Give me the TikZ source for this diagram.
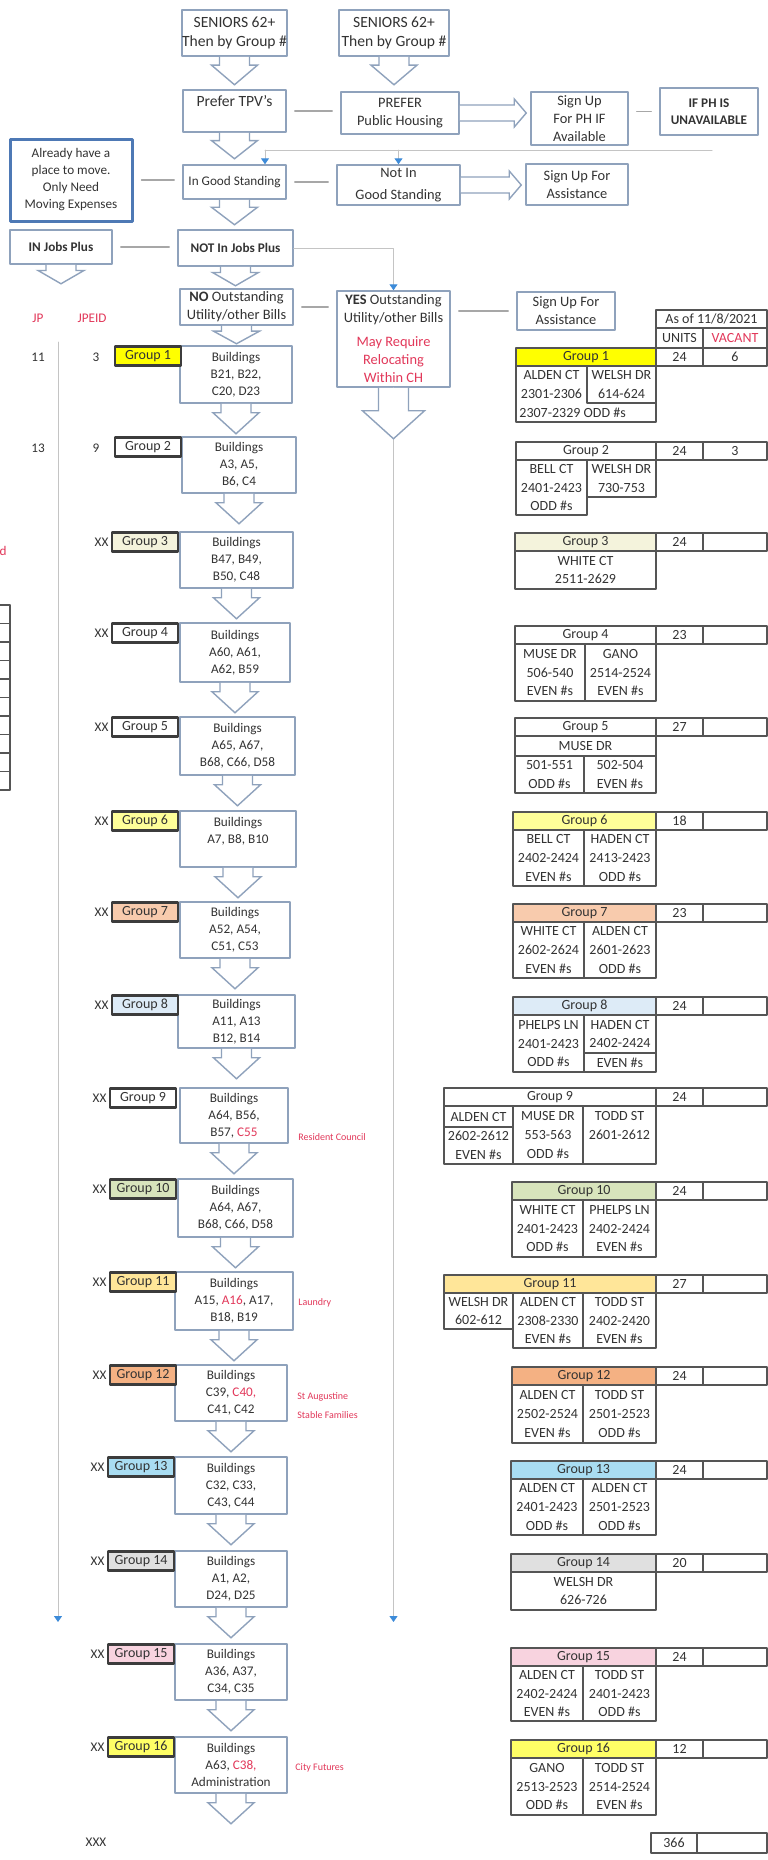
\documentclass[tikz,border=0pt]{standalone}
\usepackage{fontspec}
\setmainfont{Carlito}
\usepackage{xcolor}
\usepackage{tikz}
\usetikzlibrary{arrows.meta,positioning}
\definecolor{rlInk}{HTML}{333333}
\definecolor{rlLine}{HTML}{8FA2BC}
\definecolor{rlBlue}{HTML}{4E79B5}
\definecolor{rlDark}{HTML}{3C3C3C}
\definecolor{rlGrid}{HTML}{555555}
\definecolor{rlFaint}{HTML}{C4C4C4}
\definecolor{rlTip}{HTML}{3D8BD9}
\definecolor{rlRed}{HTML}{E2385A}
\definecolor{rlGa}{HTML}{FFFF00}
\definecolor{rlGc}{HTML}{F4F3DC}
\definecolor{rlGf}{HTML}{FFFF99}
\definecolor{rlGg}{HTML}{F8CBAD}
\definecolor{rlGh}{HTML}{DDEBF7}
\definecolor{rlGj}{HTML}{D8E4BC}
\definecolor{rlGk}{HTML}{FFE699}
\definecolor{rlGl}{HTML}{F4B183}
\definecolor{rlGm}{HTML}{A9DDF2}
\definecolor{rlGn}{HTML}{E0E0E0}
\definecolor{rlGo}{HTML}{F8D3DF}
\definecolor{rlGp}{HTML}{FFFF66}
\newcommand{\rlflow}{\fontsize{6.6}{8.5}\selectfont}
\newcommand{\rlflowbig}{\fontsize{7.2}{9}\selectfont}
\newcommand{\rlflowtop}{\fontsize{7.8}{9.6}\selectfont}
\newcommand{\rlcell}{\fontsize{7}{9.4}\selectfont}
\newcommand{\rlnote}{\fontsize{5}{6}\selectfont}
% hollow block arrow pointing down out of a box
\newcommand{\blockbelow}[2][30]{%
  \draw[rl block] ([xshift=7.5pt]#2.south) -- ++(0,{0.3*#1}) -- ++(8,0)
    -- ++(-23,{0.7*#1}) -- ++(-23,{-0.7*#1}) -- ++(8,0) -- ++(0,{-0.3*#1});}
% hollow block arrow pointing right, between two boxes
\newcommand{\blockright}[2]{%
  \coordinate (brTip) at (#1.east -| #2.west);
  \draw[rl block] ([yshift=4pt]#1.east) -- ([xshift=-8pt,yshift=4pt]brTip)
    -- ([xshift=-8pt,yshift=7pt]brTip) -- ([xshift=-2pt]brTip)
    -- ([xshift=-8pt,yshift=-7pt]brTip) -- ([xshift=-8pt,yshift=-4pt]brTip)
    -- ([yshift=-4pt]#1.east);}
\tikzset{
  rl diagram/.style={font=\rlflow, text=rlInk, x=0.5pt, y=-0.5pt,
    line cap=round, line join=round},
  rl span/.style n args={4}{minimum width={(#3-#1)*0.5pt},
    minimum height={(#4-#2)*0.5pt}, at={({(#1+#3)/2},{(#2+#4)/2})}},
  rl box/.style={draw=rlLine, fill=white, line width=0.75pt,
    inner sep=0pt, align=center},
  rl key box/.style={rl box, draw=rlBlue, line width=1.5pt},
  rl group/.style={draw=rlDark, line width=1.2pt, inner sep=0pt,
    minimum width=33pt, minimum height=9.5pt, anchor=north east,
    font=\fontsize{7}{8}\selectfont},
  rl cell/.style={draw=rlGrid, line width=0.6pt, inner sep=0pt,
    align=center, font=\rlcell},
  rl celltext/.style={inner sep=0pt, align=center, font=\rlcell},
  rl block/.style={draw=rlLine, fill=white, line width=0.7pt, line join=miter},
  rl link/.style={draw=rlFaint!85!black, line width=0.6pt,
    shorten <=4pt, shorten >=4pt},
  rl faint/.style={draw=rlFaint, line width=0.5pt},
  rl tip/.style={-{Triangle[length=3pt,width=4pt,color=rlTip]}},
  rl note/.style={font=\rlnote, text=rlRed, anchor=west, inner sep=0pt},
  rl red/.style={text=rlRed, inner sep=0pt},
  rl small/.style={inner sep=0pt}
}
\begin{document}
\begin{tikzpicture}[rl diagram]
\path[use as bounding box, fill=white] (0,0) rectangle (767,1860);

% faint guide lines
\coordinate (railL) at (265,150);
\coordinate (railR) at (712,150);
\coordinate (leftTop) at (58,342);
\coordinate (leftEnd) at (58,1622);
\draw[rl faint] (railL) -- (railR);
\draw[rl faint, rl tip] (leftTop) -- (leftEnd);

% flow boxes
\node[rl box, rl span={183}{10}{286}{56}, font=\rlflowtop] (seniorsA) {SENIORS 62+\\Then by Group \#};
\node[rl box, rl span={339}{10}{449}{56}, font=\rlflowtop] (seniorsB) {SENIORS 62+\\Then by Group \#};
\node[rl box, rl span={183}{90}{286}{132}, font=\rlflowtop] (tpv) {Prefer TPV's\\\mbox{}};
\node[rl box, rl span={341}{92}{459}{134}, font=\rlflowbig] (pph) {PREFER\\Public Housing};
\node[rl box, rl span={531}{92}{628}{145}, font=\rlflowbig] (suph) {Sign Up\\For PH IF\\Available};
\node[rl box, rl span={660}{88}{758}{135}, font=\rlflow\bfseries] (unav) {IF PH IS\\UNAVAILABLE};
\node[rl key box, rl span={10}{139}{132}{221}] (already) {Already have a\\place to move.\\Only Need\\Moving Expenses};
\node[rl box, rl span={183}{165}{286}{199}] (goodst) {In Good Standing};
\node[rl box, rl span={337}{165}{460}{205}, font=\rlflowbig] (notgood) {Not In\\[2pt]Good Standing};
\node[rl box, rl span={526}{164}{628}{205}, font=\rlflowbig] (assistA) {Sign Up For\\Assistance};
\node[rl box, rl span={10}{230}{112}{264}, font=\rlflow\bfseries] (injobs) {IN Jobs Plus};
\node[rl box, rl span={178}{230}{293}{266}, font=\rlflow\bfseries] (notjobs) {NOT In Jobs Plus};
\node[rl box, rl span={180}{289}{293}{325}, font=\rlflowbig] (nobills) {\textbf{NO} Outstanding\\Utility/other Bills};
\node[rl box, rl span={337}{291}{450}{387}, font=\rlflowbig] (yesbills) {\textbf{YES} Outstanding\\Utility/other Bills\\[3pt]\textcolor{rlRed}{May Require}\\\textcolor{rlRed}{Relocating}\\\textcolor{rlRed}{Within CH}};
\node[rl box, rl span={517}{292}{615}{330}, font=\rlflowbig] (assistB) {Sign Up For\\Assistance};

\draw[rl faint, rl tip] (railL) -- (railL |- goodst.north);
\draw[rl faint, rl tip] (notgood.north |- railL) -- (notgood.north);
\draw[rl faint, rl tip] (notjobs.east) -| (yesbills.north);
\coordinate (rightEnd) at (yesbills.south |- leftEnd);
\draw[rl faint, rl tip] (yesbills.south) -- (rightEnd);

\draw[rl link] (tpv.east) -- (tpv.east -| pph.west);
\draw[rl link] (unav.west -| suph.east) -- (unav.west);
\draw[rl link] (already.east) -- (already.east -| goodst.west);
\draw[rl link] (goodst.east) -- (goodst.east -| notgood.west);
\draw[rl link] (injobs.east) -- (injobs.east -| notjobs.west);
\draw[rl link] (nobills.east) -- (nobills.east -| yesbills.west);
\draw[rl link] (yesbills.east |- assistB.west) -- (assistB.west);

% building boxes
\node[rl box, rl span={180}{346}{292}{403}] (b1) {Buildings\\B21, B22,\\C20, D23};
\node[rl box, rl span={182}{437}{296}{493}] (b2) {Buildings\\A3, A5,\\B6, C4};
\node[rl box, rl span={180}{532}{293}{588}] (b3) {Buildings\\B47, B49,\\B50, C48};
\node[rl box, rl span={180}{623}{290}{682}] (b4) {Buildings\\A60, A61,\\A62, B59};
\node[rl box, rl span={180}{717}{295}{775}] (b5) {Buildings\\A65, A67,\\B68, C66, D58};
\node[rl box, rl span={180}{811}{296}{867}] (b6) {Buildings\\A7, B8, B10\\\mbox{}};
\node[rl box, rl span={180}{902}{290}{958}] (b7) {Buildings\\A52, A54,\\C51, C53};
\node[rl box, rl span={178}{995}{295}{1048}] (b8) {Buildings\\A11, A13\\B12, B14};
\node[rl box, rl span={180}{1088}{288}{1143}] (b9) {Buildings\\A64, B56,\\B57, \textcolor{rlRed}{C55}};
\node[rl box, rl span={178}{1179}{293}{1237}] (b10) {Buildings\\A64, A67,\\B68, C66, D58};
\node[rl box, rl span={175}{1272}{293}{1330}] (b11) {Buildings\\A15, \textcolor{rlRed}{A16}, A17,\\B18, B19};
\node[rl box, rl span={175}{1365}{287}{1421}] (b12) {Buildings\\C39, \textcolor{rlRed}{C40,}\\C41, C42};
\node[rl box, rl span={175}{1457}{287}{1514}] (b13) {Buildings\\C32, C33,\\C43, C44};
\node[rl box, rl span={175}{1551}{287}{1607}] (b14) {Buildings\\A1, A2,\\D24, D25};
\node[rl box, rl span={175}{1644}{287}{1700}] (b15) {Buildings\\A36, A37,\\C34, C35};
\node[rl box, rl span={175}{1737}{287}{1793}] (b16) {Buildings\\A63, \textcolor{rlRed}{C38,}\\Administration};

% block arrows
\blockbelow[28]{seniorsA}
\blockbelow[28]{seniorsB}
\blockbelow[26]{tpv}
\blockbelow[25]{goodst}
\blockbelow[19]{injobs}
\blockbelow[19]{notjobs}
\blockbelow[18]{nobills}
\foreach \k in {1,...,16} {\blockbelow{b\k}}
\draw[rl block] ([xshift=7.5pt]yesbills.south) -- ++(0,23) -- ++(16,0)
  -- ++(-31,28) -- ++(-31,-28) -- ++(16,0) -- ++(0,-23);
\blockright{pph}{suph}
\blockright{notgood}{assistA}

% group tags
\node[rl group, fill=rlGa] (grp1) at ([xshift=1.5pt]b1.north west) {Group 1};
\node[rl group, fill=white] (grp2) at ([xshift=0.5pt]b2.north west) {Group 2};
\node[rl group, fill=rlGc] (grp3) at (b3.north west) {Group 3};
\node[rl group, fill=white] (grp4) at (b4.north west) {Group 4};
\node[rl group, fill=white] (grp5) at (b5.north west) {Group 5};
\node[rl group, fill=rlGf] (grp6) at (b6.north west) {Group 6};
\node[rl group, fill=rlGg] (grp7) at (b7.north west) {Group 7};
\node[rl group, fill=rlGh] (grp8) at ([xshift=1pt]b8.north west) {Group 8};
\node[rl group, fill=white] (grp9) at ([xshift=-1pt]b9.north west) {Group 9};
\node[rl group, fill=rlGj] (grp10) at (b10.north west) {Group 10};
\node[rl group, fill=rlGk] (grp11) at ([xshift=1.5pt]b11.north west) {Group 11};
\node[rl group, fill=rlGl] (grp12) at ([xshift=1.5pt]b12.north west) {Group 12};
\node[rl group, fill=rlGm] (grp13) at ([xshift=0.5pt]b13.north west) {Group 13};
\node[rl group, fill=rlGn] (grp14) at ([xshift=0.5pt]b14.north west) {Group 14};
\node[rl group, fill=rlGo] (grp15) at ([xshift=0.5pt]b15.north west) {Group 15};
\node[rl group, fill=rlGp] (grp16) at ([xshift=0.5pt]b16.north west) {Group 16};
\foreach \k in {3,...,16} {\node[rl small, left=1pt of grp\k] (xx\k) {XX};}

% left columns
\node[rl red] (jpHead) at (38,318) {JP};
\node[rl red] (jpeidHead) at (92,318) {JPEID};
\node[rl small] (jpA) at (38,357) {11};
\node[rl small] (jpeidA) at (96,357) {3};
\node[rl small] (jpB) at (38,448) {13};
\node[rl small] (jpeidB) at (96,448) {9};
\node[rl red, anchor=east] (cutNote) at (7,551) {d};
\foreach \r in {0,...,10} {\draw[draw=rlGrid, line width=0.6pt] (0,{605+18.5*\r}) -- (10,{605+18.5*\r});}
\draw[draw=rlGrid, line width=0.6pt] (10,605) -- (10,790);
\node[rl small] (tail) at (96,1842) {XXX};

% notes
\node[rl note] (noteCouncil) at (298,1137) {Resident Council};
\node[rl note] (noteLaundry) at (298,1303) {Laundry};
\node[rl note] (noteAugustine) at (297,1397) {St Augustine};
\node[rl note] (noteStable) at (297,1415) {Stable Families};
\node[rl note] (noteFutures) at (295,1768) {City Futures};

% unit table
\node[rl cell, rl span={656}{310}{767}{328}] (asOf) {As of 11/8/2021};
\node[rl cell, rl span={656}{328}{703}{348}] (unitsHead) {UNITS};
\node[rl cell, rl span={703}{328}{767}{348}, text=rlRed] (vacantHead) {VACANT};
\foreach \n/\y/\x/\c/\gu/\gv in {1/348/516/rlGa/24/6, 2/442/516/white/24/3,
  3/533/515/rlGc/24/{}, 4/626/515/white/23/{}, 5/718/515/white/27/{},
  6/812/513/rlGf/18/{}, 7/904/513/rlGg/23/{}, 8/997/513/rlGh/24/{},
  9/1088/444/white/24/{}, 10/1182/512/rlGj/24/{}, 11/1275/444/rlGk/27/{},
  12/1367/512/rlGl/24/{}, 13/1461/511/rlGm/24/{}, 14/1554/511/rlGn/20/{},
  15/1648/511/rlGo/24/{}, 16/1740/511/rlGp/12/{}}
{
  \node[rl cell, fill=\c, rl span={\x}{\y}{656}{\y+18}] (head\n) {Group \n};
  \node[rl cell, rl span={656}{\y}{703}{\y+18}] (units\n) {\gu};
  \node[rl cell, rl span={703}{\y}{767}{\y+18}] (vacant\n) {\gv};
}
\node[rl cell, rl span={651}{1833}{697}{1853}] (unitsTotal) {366};
\node[rl cell, rl span={697}{1833}{767}{1853}] (vacantTotal) {};

% street cells
\node[rl cell, rl span={516}{366}{656}{422}] (g1frame) {};
\node[rl celltext, rl span={516}{366}{587}{403}] (g1a) {ALDEN CT\\2301-2306};
\node[rl cell, rl span={587}{366}{656}{403}] (g1b) {WELSH DR\\614-624};
\node[rl celltext, anchor=west] (g1c) at (519,413) {2307-2329 ODD \#s};
\node[rl cell, rl span={516}{460}{587}{515}] (g2a) {BELL CT\\2401-2423\\ODD \#s};
\node[rl cell, rl span={587}{460}{656}{497}] (g2b) {WELSH DR\\730-753};
\node[rl cell, rl span={515}{551}{656}{589}] (g3a) {WHITE CT\\2511-2629};
\node[rl cell, rl span={515}{644}{585}{701}] (g4a) {MUSE DR\\506-540\\EVEN \#s};
\node[rl cell, rl span={585}{644}{656}{701}] (g4b) {GANO\\2514-2524\\EVEN \#s};
\node[rl cell, rl span={515}{736}{656}{756}] (g5a) {MUSE DR};
\node[rl cell, rl span={515}{756}{584}{793}] (g5b) {501-551\\ODD \#s};
\node[rl cell, rl span={584}{756}{656}{793}] (g5c) {502-504\\EVEN \#s};
\node[rl cell, rl span={513}{830}{584}{886}] (g6a) {BELL CT\\2402-2424\\EVEN \#s};
\node[rl cell, rl span={584}{830}{656}{886}] (g6b) {HADEN CT\\2413-2423\\ODD \#s};
\node[rl cell, rl span={513}{922}{584}{978}] (g7a) {WHITE CT\\2602-2624\\EVEN \#s};
\node[rl cell, rl span={584}{922}{656}{978}] (g7b) {ALDEN CT\\2601-2623\\ODD \#s};
\node[rl cell, rl span={513}{1015}{584}{1072}] (g8a) {PHELPS LN\\2401-2423\\ODD \#s};
\node[rl cell, rl span={584}{1015}{656}{1053}] (g8b) {HADEN CT\\2402-2424};
\node[rl cell, rl span={584}{1053}{656}{1072}] (g8c) {EVEN \#s};
\node[rl cell, rl span={444}{1106}{513}{1127}] (g9a) {ALDEN CT};
\node[rl cell, rl span={444}{1127}{513}{1164}] (g9b) {2602-2612\\EVEN \#s};
\node[rl cell, rl span={513}{1106}{583}{1164}] (g9c) {MUSE DR\\553-563\\ODD \#s};
\node[rl cell, rl span={583}{1106}{656}{1164}] (g9d) {TODD ST\\2601-2612\\\mbox{}};
\node[rl cell, rl span={512}{1200}{583}{1257}] (g10a) {WHITE CT\\2401-2423\\ODD \#s};
\node[rl cell, rl span={583}{1200}{656}{1257}] (g10b) {PHELPS LN\\2402-2424\\EVEN \#s};
\node[rl cell, rl span={444}{1293}{513}{1329}] (g11a) {WELSH DR\\602-612};
\node[rl cell, rl span={513}{1293}{583}{1348}] (g11b) {ALDEN CT\\2308-2330\\EVEN \#s};
\node[rl cell, rl span={583}{1293}{656}{1348}] (g11c) {TODD ST\\2402-2420\\EVEN \#s};
\node[rl cell, rl span={512}{1385}{583}{1443}] (g12a) {ALDEN CT\\2502-2524\\EVEN \#s};
\node[rl cell, rl span={583}{1385}{656}{1443}] (g12b) {TODD ST\\2501-2523\\ODD \#s};
\node[rl cell, rl span={511}{1479}{583}{1535}] (g13a) {ALDEN CT\\2401-2423\\ODD \#s};
\node[rl cell, rl span={583}{1479}{656}{1535}] (g13b) {ALDEN CT\\2501-2523\\ODD \#s};
\node[rl cell, rl span={511}{1572}{656}{1610}] (g14a) {WELSH DR\\626-726};
\node[rl cell, rl span={511}{1666}{583}{1721}] (g15a) {ALDEN CT\\2402-2424\\EVEN \#s};
\node[rl cell, rl span={583}{1666}{656}{1721}] (g15b) {TODD ST\\2401-2423\\ODD \#s};
\node[rl cell, rl span={511}{1758}{583}{1815}] (g16a) {GANO\\2513-2523\\ODD \#s};
\node[rl cell, rl span={583}{1758}{656}{1815}] (g16b) {TODD ST\\2514-2524\\EVEN \#s};
\end{tikzpicture}
\end{document}
